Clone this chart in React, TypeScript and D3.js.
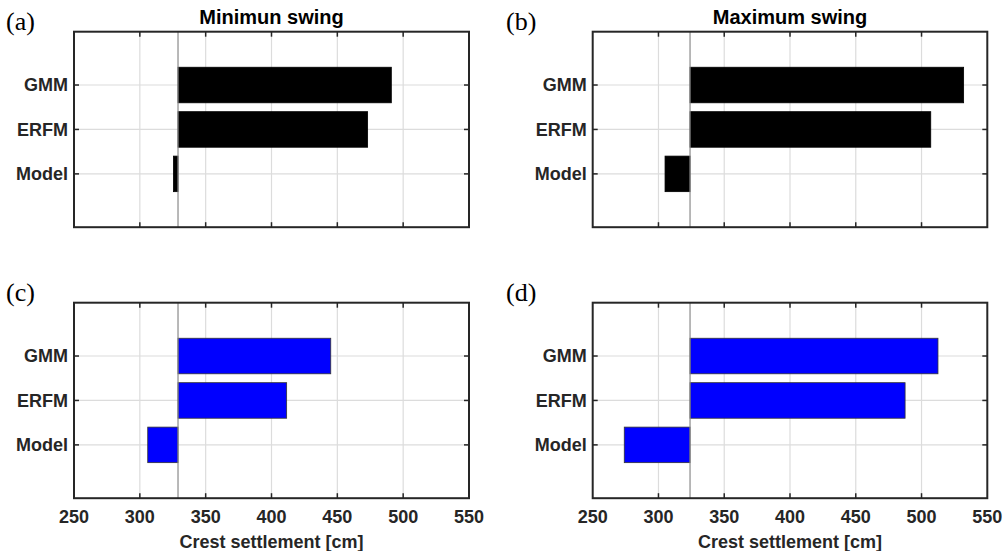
import React from "react";
import * as d3 from "d3";

const categories = ["Model", "ERFM", "GMM"];
const xTicks = [250, 300, 350, 400, 450, 500, 550];
const titles = ["Minimun swing", "Maximum swing"];
const panelLabels = ["(a)", "(b)", "(c)", "(d)"];
const baseMin = 329;
const baseMax = 324;
const minSwingBlack = [325.5, 473, 491];
const maxSwingBlack = [305, 507, 532];
const minSwingBlue = [306, 411.5, 445];
const maxSwingBlue = [274, 487.5, 512.5];

const W = 1006;
const H = 551;

type PanelProps = {
  left: number;
  top: number;
  width: number;
  height: number;
  values: number[];
  base: number;
  fill: string;
  edge: string;
  title?: string;
  label: string;
  showX: boolean;
};

const SANS = "'Liberation Sans', Arial, sans-serif";
const AXIS = "#262626";
const GRID = "#dcdcdc";

function Panel(p: PanelProps) {
  const x = d3.scaleLinear().domain([250, 550]).range([p.left, p.left + p.width]);
  const y = d3.scaleLinear().domain([-0.2, 4.2]).range([p.top + p.height, p.top]);
  const yPos = (i: number) => y(i + 1);
  const barH = y(0) - y(0.8);
  const tickLen = 5;
  return (
    <g>
      {/* grid */}
      {xTicks.slice(1, -1).map((t) => (
        <line key={"gx" + t} x1={x(t)} x2={x(t)} y1={p.top} y2={p.top + p.height} stroke={GRID} strokeWidth={1.2} />
      ))}
      {categories.map((c, i) => (
        <line key={"gy" + c} x1={p.left} x2={p.left + p.width} y1={yPos(i)} y2={yPos(i)} stroke={GRID} strokeWidth={1.2} />
      ))}
      {/* bars */}
      {p.values.map((v, i) => (
        <rect
          key={"b" + i}
          x={Math.min(x(v), x(p.base))}
          y={yPos(i) - barH / 2}
          width={Math.abs(x(v) - x(p.base))}
          height={barH}
          fill={p.fill}
          stroke={p.edge}
          strokeWidth={0.8}
        />
      ))}
      {/* baseline */}
      <line x1={x(p.base)} x2={x(p.base)} y1={p.top} y2={p.top + p.height} stroke="#8a8a8a" strokeWidth={1.2} />
      {/* ticks */}
      {xTicks.slice(1, -1).map((t) => (
        <g key={"tx" + t}>
          <line x1={x(t)} x2={x(t)} y1={p.top + p.height} y2={p.top + p.height - tickLen} stroke={AXIS} strokeWidth={1.5} />
          <line x1={x(t)} x2={x(t)} y1={p.top} y2={p.top + tickLen} stroke={AXIS} strokeWidth={1.5} />
        </g>
      ))}
      {categories.map((c, i) => (
        <g key={"ty" + c}>
          <line x1={p.left} x2={p.left + tickLen} y1={yPos(i)} y2={yPos(i)} stroke={AXIS} strokeWidth={1.5} />
          <line x1={p.left + p.width} x2={p.left + p.width - tickLen} y1={yPos(i)} y2={yPos(i)} stroke={AXIS} strokeWidth={1.5} />
          <text x={p.left - 6} y={yPos(i)} dy="0.35em" textAnchor="end" fontFamily={SANS} fontWeight="bold" fontSize={18} fill={AXIS}>
            {c}
          </text>
        </g>
      ))}
      {/* box */}
      <rect x={p.left} y={p.top} width={p.width} height={p.height} fill="none" stroke={AXIS} strokeWidth={2} />
      {p.showX &&
        xTicks.map((t) => (
          <text key={"xl" + t} x={x(t)} y={p.top + p.height + 25} textAnchor="middle" fontFamily={SANS} fontWeight="bold" fontSize={18} fill={AXIS}>
            {t}
          </text>
        ))}
      {p.showX && (
        <text x={p.left + p.width / 2} y={p.top + p.height + 50} textAnchor="middle" fontFamily={SANS} fontWeight="bold" fontSize={18} fill={AXIS}>
          Crest settlement [cm]
        </text>
      )}
      {p.title && (
        <text x={p.left + p.width / 2} y={p.top - 8} textAnchor="middle" fontFamily={SANS} fontWeight="bold" fontSize={20} fill="#000">
          {p.title}
        </text>
      )}
    </g>
  );
}

export default function App() {
  const lefts = [74, 592.7];
  const tops = [31.7, 302.7];
  const pw = [395, 394.6];
  const ph = 195.5;
  const labelX = [6, 506];
  return (
    <svg width={W} height={H} style={{ position: "absolute", left: 0, top: 0, background: "#fff" }}>
      <rect x={0} y={0} width={W} height={H} fill="#fff" />
      <Panel left={lefts[0]} top={tops[0]} width={pw[0]} height={ph} values={minSwingBlack} base={baseMin} fill="#000" edge="#000" title={titles[0]} label={panelLabels[0]} showX={false} />
      <Panel left={lefts[1]} top={tops[0]} width={pw[1]} height={ph} values={maxSwingBlack} base={baseMax} fill="#000" edge="#000" title={titles[1]} label={panelLabels[1]} showX={false} />
      <Panel left={lefts[0]} top={tops[1]} width={pw[0]} height={ph} values={minSwingBlue} base={baseMin} fill="#0000ff" edge="#333" label={panelLabels[2]} showX={true} />
      <Panel left={lefts[1]} top={tops[1]} width={pw[1]} height={ph} values={maxSwingBlue} base={baseMax} fill="#0000ff" edge="#333" label={panelLabels[3]} showX={true} />
      {panelLabels.map((l, i) => (
        <text key={l} x={labelX[i % 2]} y={(i < 2 ? 30 : 301)} fontFamily="'Liberation Serif', 'Times New Roman', serif" fontSize={26} fill="#000">
          {l}
        </text>
      ))}
    </svg>
  );
}
